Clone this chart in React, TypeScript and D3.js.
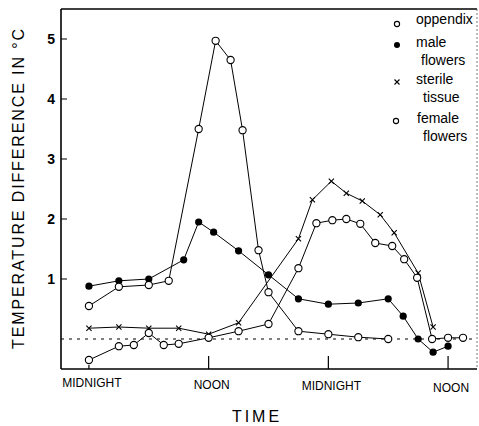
import React from 'react';
import * as d3 from 'd3';

// hours from the first midnight, values in degrees C
const appendixHours = [0, 3, 6, 8, 11, 12.7, 14.2, 15.4, 17, 18, 21, 24, 27, 30];
const appendixValues = [0.55, 0.87, 0.9, 0.97, 3.5, 4.97, 4.65, 3.48, 1.48, 0.78, 0.13, 0.08, 0.03, 0.0];

const maleHours = [0, 3, 6, 9.5, 11, 12.5, 15, 18, 21, 24, 27, 30, 31.5, 33, 34.5, 36];
const maleValues = [0.88, 0.97, 1.0, 1.32, 1.95, 1.78, 1.47, 1.07, 0.67, 0.58, 0.6, 0.67, 0.38, 0.0, -0.22, -0.12];

const sterileHours = [0, 3, 6, 9, 12, 15, 21, 22.4, 24.3, 25.8, 27.4, 29.2, 30.6, 33, 34.5];
const sterileValues = [0.18, 0.2, 0.18, 0.18, 0.08, 0.27, 1.67, 2.32, 2.63, 2.43, 2.3, 2.07, 1.77, 1.1, 0.2];

const femaleHours = [0, 3, 4.5, 6, 7.5, 9, 12, 15, 18, 21, 22.8, 24.4, 25.8, 27.2, 28.7, 30.4, 31.6, 32.9, 34.4, 36, 37.5];
const femaleValues = [-0.35, -0.12, -0.1, 0.1, -0.1, -0.08, 0.02, 0.13, 0.25, 1.18, 1.93, 1.98, 2.0, 1.92, 1.6, 1.55, 1.33, 1.02, 0.0, 0.02, 0.02];

const yTicks = [1, 2, 3, 4, 5];
const timeTicks = [0, 12, 24, 36];
const timeLabels = ['MIDNIGHT', 'NOON', 'MIDNIGHT', 'NOON'];

const W = 479, H = 426;
const left = 61, right = 477, top = 9, bottom = 369;
const font = '"Liberation Sans", Arial, sans-serif';

type Pt = [number, number];
const zip = (h: number[], v: number[]): Pt[] => h.map((d, i) => [d, v[i]]);

export default function App() {
  const x = d3.scaleLinear().domain([-2.8, 38.9]).range([left, right]);
  const y = d3.scaleLinear().domain([-0.5, 5.5]).range([bottom, top]);
  const line = d3.line<Pt>().x(d => x(d[0])).y(d => y(d[1]));

  const appendix = zip(appendixHours, appendixValues);
  const male = zip(maleHours, maleValues);
  const sterile = zip(sterileHours, sterileValues);
  const female = zip(femaleHours, femaleValues);

  const crossPath = (cx: number, cy: number, s: number) =>
    `M${cx - s},${cy - s}L${cx + s},${cy + s}M${cx - s},${cy + s}L${cx + s},${cy - s}`;

  return (
    <svg width={W} height={H} style={{ position: 'absolute', left: 0, top: 0, background: '#fff' }}
      fontFamily={font}>
      <rect width={W} height={H} fill="#fff" />
      {/* frame */}
      <line x1={left} x2={left} y1={top} y2={bottom} stroke="#000" strokeWidth={1.6} />
      <line x1={left} x2={right} y1={bottom} y2={bottom} stroke="#000" strokeWidth={1.3} />
      <line x1={left} x2={right} y1={top} y2={top} stroke="#000" strokeWidth={1.3} />
      <line x1={right} x2={right} y1={top} y2={bottom} stroke="#555" strokeWidth={0.8} strokeDasharray="2,2" />

      {/* zero line */}
      <line x1={left} x2={right} y1={y(0)} y2={y(0)} stroke="#000" strokeWidth={1.2} strokeDasharray="3,5" />

      {/* y ticks */}
      {yTicks.map(t => (
        <g key={t}>
          <line x1={left} x2={left + 6} y1={y(t)} y2={y(t)} stroke="#000" strokeWidth={1} />
          <text x={left - 6} y={y(t) + 5} textAnchor="end" fontSize={14} fontWeight="bold">{t}</text>
        </g>
      ))}

      {/* x ticks */}
      {timeTicks.map((t, i) => (
        <g key={i}>
          <line x1={x(t)} x2={x(t)} y1={bottom} y2={bottom - (i === 0 ? 4 : 13)} stroke="#000" strokeWidth={1.2} />
          <text x={x(t) + 3} y={bottom + 18 + i * 1.5} textAnchor="middle" fontSize={12}>
            {timeLabels[i]}
          </text>
        </g>
      ))}

      {/* axis titles */}
      <text x={257} y={422} textAnchor="middle" fontSize={16} letterSpacing={3}>TIME</text>
      <text transform="translate(24,189) rotate(-90)" textAnchor="middle" fontSize={16}
        textLength={320} lengthAdjust="spacing">
        TEMPERATURE  DIFFERENCE  IN  °C
      </text>

      {/* series lines */}
      <g fill="none" stroke="#000" strokeWidth={1}>
        <path d={line(appendix) ?? ''} />
        <path d={line(male) ?? ''} />
        <path d={line(sterile) ?? ''} />
        <path d={line(female) ?? ''} />
      </g>

      {/* markers */}
      {sterile.map((d, i) => (
        <path key={'s' + i} d={crossPath(x(d[0]), y(d[1]), 2.6)} stroke="#000" strokeWidth={1.1} />
      ))}
      {male.map((d, i) => (
        <circle key={'m' + i} cx={x(d[0])} cy={y(d[1])} r={3.6} fill="#000" />
      ))}
      {appendix.map((d, i) => (
        <circle key={'a' + i} cx={x(d[0])} cy={y(d[1])} r={3.6} fill="#fff" stroke="#000" strokeWidth={1.1} />
      ))}
      {female.map((d, i) => (
        <circle key={'f' + i} cx={x(d[0])} cy={y(d[1])} r={3.6} fill="#fff" stroke="#000" strokeWidth={1.1} />
      ))}

      {/* legend */}
      <g fontSize={14}>
        <circle cx={397} cy={24} r={2.6} fill="#fff" stroke="#000" strokeWidth={1.1} />
        <text x={416} y={24}>oppendix</text>
        <circle cx={397} cy={45} r={3} fill="#000" />
        <text x={416} y={47}>male</text>
        <text x={421} y={65}>flowers</text>
        <path d={crossPath(397, 82, 2.5)} stroke="#000" strokeWidth={1.1} />
        <text x={416} y={84}>sterile</text>
        <text x={423} y={102}>tissue</text>
        <circle cx={396} cy={121} r={2.6} fill="#fff" stroke="#000" strokeWidth={1.1} />
        <text x={417} y={123}>female</text>
        <text x={423} y={141}>flowers</text>
      </g>
    </svg>
  );
}
